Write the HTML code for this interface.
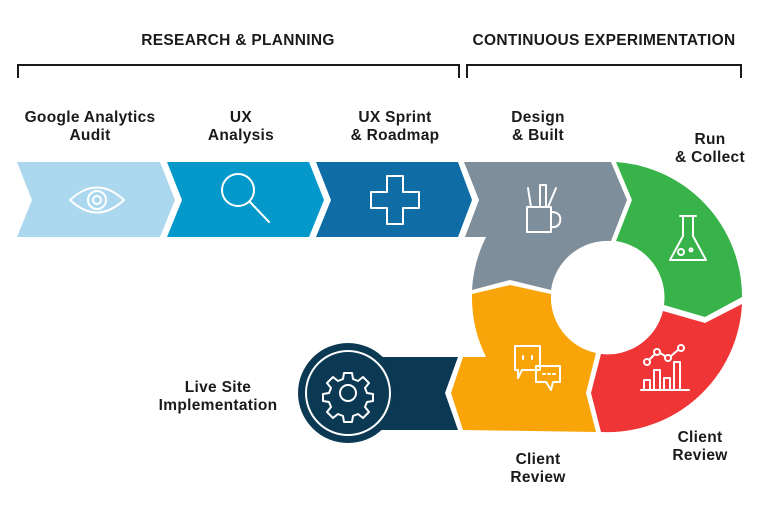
<!DOCTYPE html>
<html><head><meta charset="utf-8"><style>
html,body{margin:0;padding:0;background:#fff;}
svg{display:block;}
text{font-family:"Liberation Sans",sans-serif;font-weight:bold;fill:#1a1a1a;}
</style></head><body>
<svg width="759" height="512" viewBox="0 0 759 512" xmlns="http://www.w3.org/2000/svg">
<text x="238" y="45" font-size="15.5" text-anchor="middle" letter-spacing="0.3">RESEARCH &amp; PLANNING</text>
<text x="604" y="45" font-size="15.5" text-anchor="middle" letter-spacing="0.3">CONTINUOUS EXPERIMENTATION</text>
<path d="M18,78 V65 H459 V78" fill="none" stroke="#1a1a1a" stroke-width="2"/>
<path d="M467,78 V65 H741 V78" fill="none" stroke="#1a1a1a" stroke-width="2"/>
<g font-size="15.5" text-anchor="middle" letter-spacing="0.3">
<text x="90" y="122">Google Analytics</text><text x="90" y="140">Audit</text>
<text x="241" y="122">UX</text><text x="241" y="140">Analysis</text>
<text x="395" y="122">UX Sprint</text><text x="395" y="140">&amp; Roadmap</text>
<text x="538" y="122">Design</text><text x="538" y="140">&amp; Built</text>
<text x="710" y="144">Run</text><text x="710" y="162">&amp; Collect</text>
<text x="218" y="392">Live Site</text><text x="218" y="410">Implementation</text>
<text x="538" y="464">Client</text><text x="538" y="482">Review</text>
<text x="700" y="442">Client</text><text x="700" y="460">Review</text>
</g>
<path d="M17,162 L160,162 L175,200 L160,237 L17,237 L32,200 Z" fill="#acd8ef"/>
<path d="M167,162 L309,162 L324,200 L309,237 L167,237 L182,200 Z" fill="#0599cb"/>
<path d="M316,162 L458,162 L472,200 L458,237 L316,237 L331,200 Z" fill="#0f6ca4"/>
<path d="M464,162 L611,162 L627,200 L611,241 A57,57 0 0,0 551,290 L510,280 L472,290 A135,135 0 0,1 486,237 L465,237 L479,200 Z" fill="#7e8e9b"/>
<path d="M616,162 A135,135 0 0,1 742,297 L705,317 L664,305 A57,57 0 0,0 616,241 L632,200 Z" fill="#37b34a"/>
<path d="M742,304 A135,135 0 0,1 601,432 L591,393 L601,354 A57,57 0 0,0 663,311 L705,323 Z" fill="#ef3535"/>
<path d="M596,432 L586,393 L596,353 A57,57 0 0,1 551,294 L510,285 L472,294 A135,135 0 0,0 486,357 L463,357 L451,393 L463,430 L596,432 Z" fill="#f9a50a"/>
<path d="M330,357 L458,357 L445,393 L458,430 L330,430 Z" fill="#0b3954"/>
<circle cx="348" cy="393" r="50" fill="#0b3954"/>
<circle cx="348" cy="393" r="42" fill="none" stroke="#fff" stroke-width="2"/>
<g fill="none" stroke="#fff" stroke-width="2" stroke-linejoin="round" stroke-linecap="round">
<path d="M70,200 Q97,175 124,200 Q97,225 70,200 Z"/>
<circle cx="97" cy="200" r="9"/><circle cx="97" cy="200" r="4"/>
<circle cx="238" cy="190" r="16"/><path d="M250,202 L269,222"/>
<path d="M387,176 H403 V192 H419 V208 H403 V224 H387 V208 H371 V192 H387 Z"/>
<path d="M527,207 V232 H551 V207 Z M551,212 Q562,212 560,222 Q558,228 551,227"/>
<path d="M531,207 L528,188 M540,207 V185 H546 V207 M548,207 L556,188"/>
<path d="M680,216 H696 M683,216 V236 L670,260 H706 L693,236 V216"/>
<circle cx="681" cy="252" r="3"/><circle cx="691" cy="250" r="1.5"/>
<path d="M515,346 H540 V370 H522 L518,378 V370 H515 Z"/>
<path d="M536,366 H560 V382 H553 L551,390 L546,382 H536 Z"/>
<path d="M523,356 V359 M532,356 V359"/>
<path d="M543,374 H545 M548,374 H550 M553,374 H555"/>
<path d="M641,390 H689 M644,390 V380 H650 V390 M654,390 V370 H660 V390 M664,390 V378 H670 V390 M674,390 V362 H680 V390"/>
<circle cx="647" cy="362" r="3"/><circle cx="657" cy="352" r="3"/><circle cx="668" cy="358" r="3"/><circle cx="681" cy="348" r="3"/>
<path d="M649,360 L655,354 M660,353 L665,356 M671,356 L678,350"/>
<circle cx="348" cy="393" r="8"/>
<path d="M344,373 H352 L353,379 L358,381 L363,377 L369,383 L365,388 L367,393 L373,394 V401 L367,402 L365,407 L369,412 L363,418 L358,414 L353,416 L352,422 H344 L343,416 L338,414 L333,418 L327,412 L331,407 L329,402 L323,401 V394 L329,393 L331,388 L327,383 L333,377 L338,381 L343,379 Z"/>
</g>
</svg>
</body></html>
